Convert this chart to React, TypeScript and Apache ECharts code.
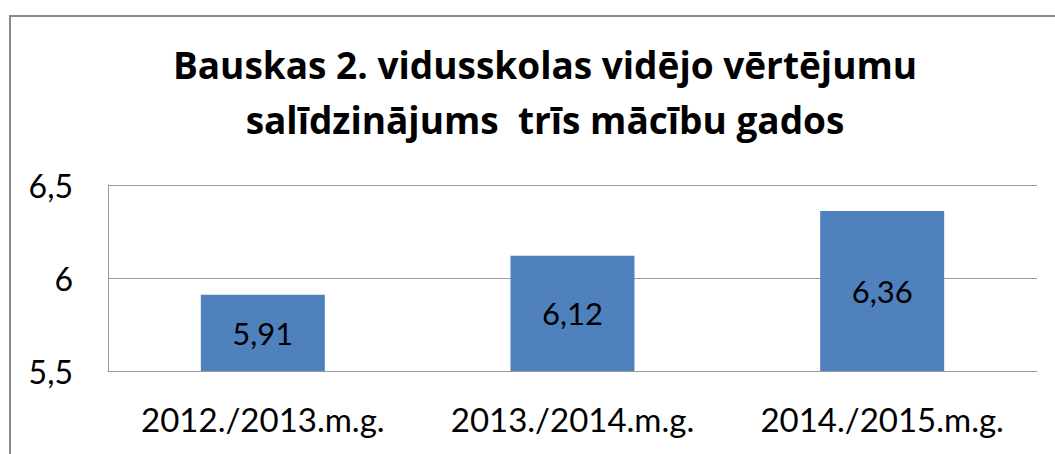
import React, { useEffect, useRef } from "react";
import * as echarts from "echarts";

const titleLines = ["Bauskas 2. vidusskolas vidējo vērtējumu", "salīdzinājums  trīs mācību gados"];
const categories = ["2012./2013.m.g.", "2013./2014.m.g.", "2014./2015.m.g."];
const values = [5.91, 6.12, 6.36];
const yTicks = { min: 5.5, max: 6.5, interval: 0.5 };

const FONT = "Lato";
const TITLE_FONT = "Open Sans";

export default function App() {
  const ref = useRef<HTMLDivElement>(null);
  useEffect(() => {
    if (!ref.current) return;
    const chart = echarts.init(ref.current, undefined, { renderer: "svg" });
    chart.setOption({
      animation: false,
      backgroundColor: "#ffffff",
      title: {
        text: titleLines.join("\n"),
        left: 540,
        top: 32,
        textAlign: "center",
        textStyle: { fontFamily: TITLE_FONT, fontWeight: "bold", fontSize: 37, lineHeight: 55, color: "#000" },
      },
      graphic: [
        {
          type: "rect",
          shape: { x: 10, y: 16, width: 1200, height: 600 },
          style: { fill: "none", stroke: "#8a8a8a", lineWidth: 2 },
          silent: true,
        },
      ],
      grid: { left: 108, right: 18, top: 185, bottom: 83, containLabel: false },
      xAxis: {
        type: "category",
        data: categories,
        axisLine: { show: true, lineStyle: { color: "#9a9a9a", width: 1 } },
        axisTick: { show: false },
        axisLabel: {
          interval: 0,
          hideOverlap: false,
          fontFamily: FONT,
          fontSize: 33,
          color: "#000",
          margin: 31,
          lineHeight: 33,
        },
      },
      yAxis: {
        type: "value",
        min: yTicks.min,
        max: yTicks.max,
        interval: yTicks.interval,
        axisLine: { show: true, lineStyle: { color: "#9a9a9a", width: 1 } },
        axisTick: { show: false },
        splitLine: { show: true, lineStyle: { color: "#9a9a9a", width: 1 } },
        axisLabel: {
          fontFamily: FONT,
          fontSize: 32,
          color: "#000",
          margin: 35,
          formatter: (v: number) => String(v).replace(".", ","),
        },
      },
      series: [
        {
          type: "bar",
          data: values,
          barWidth: 124,
          itemStyle: { color: "#4F81BD" },
          label: {
            show: true,
            position: "inside",
            fontFamily: FONT,
            fontSize: 31,
            color: "#000",
            formatter: (p: any) => String(p.value).replace(".", ","),
          },
        },
      ],
    });
    return () => chart.dispose();
  }, []);
  return (
    <div
      ref={ref}
      style={{ position: "absolute", left: 0, top: 0, width: 1055, height: 454 }}
    />
  );
}
